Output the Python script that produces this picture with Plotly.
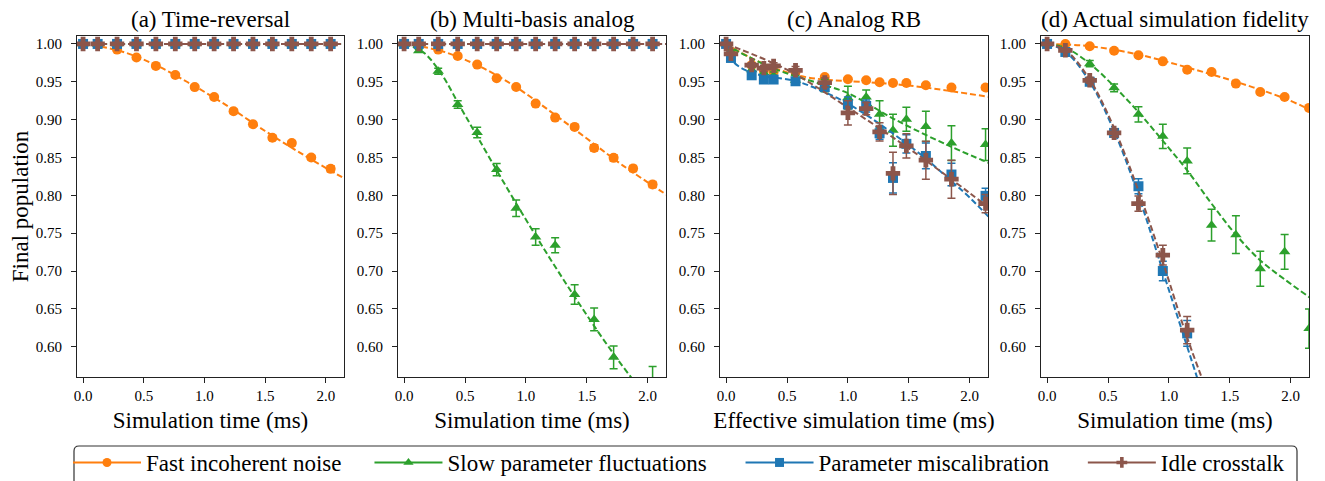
import plotly.graph_objects as go

# ---------------- data ----------------
series_names = ["Fast incoherent noise", "Slow parameter fluctuations",
                "Parameter miscalibration", "Idle crosstalk"]
panel_titles = ["(a) Time-reversal", "(b) Multi-basis analog",
                "(c) Analog RB", "(d) Actual simulation fidelity"]
x_titles = ["Simulation time (ms)", "Simulation time (ms)",
            "Effective simulation time (ms)", "Simulation time (ms)"]
y_title = "Final population"
x_ticks = [0.0, 0.5, 1.0, 1.5, 2.0]
y_ticks = [0.60, 0.65, 0.70, 0.75, 0.80, 0.85, 0.90, 0.95, 1.00]

# panel (a) time-reversal
t_ab = [0, 0.12, 0.28, 0.44, 0.60, 0.76, 0.92, 1.08, 1.24, 1.40, 1.56, 1.72, 1.88, 2.04]
a_orange = [1.0, 0.999, 0.9925, 0.982, 0.971, 0.959, 0.943, 0.930, 0.911, 0.894, 0.876, 0.869, 0.850, 0.835]
a_orange_err = [0, 0.001, 0.002, 0.002, 0.002, 0.002, 0.002, 0.002, 0.003, 0.003, 0.003, 0.003, 0.003, 0.004]
a_green = [1.0] * 14
a_blue = [1.0] * 14
a_brown = [1.0] * 14
a_zero_err = [0.0] * 14
fit_a_orange_x = [0, 0.3, 0.6, 0.9, 1.2, 1.5, 1.8, 2.2]
fit_a_orange_y = [1.0, 0.991, 0.972, 0.946, 0.917, 0.885, 0.855, 0.818]
fit_flat_x = [0, 2.2]
fit_flat_y = [1.0, 1.0]

# panel (b) multi-basis analog
b_orange = [1.0, 0.999, 0.9925, 0.984, 0.9727, 0.9547, 0.9432, 0.9212, 0.9027, 0.8904, 0.8627, 0.8495, 0.8354, 0.8143]
b_orange_err = [0, 0.001, 0.002, 0.002, 0.002, 0.002, 0.002, 0.002, 0.003, 0.003, 0.004, 0.004, 0.004, 0.004]
b_green = [1.0, 0.991, 0.964, 0.920, 0.883, 0.834, 0.783, 0.745, 0.734, 0.669, 0.636, 0.586, 0.540, 0.552]
b_green_err = [0, 0.002, 0.004, 0.005, 0.007, 0.008, 0.011, 0.011, 0.010, 0.013, 0.015, 0.015, 0.012, 0.022]
b_blue = [1.0] * 14
b_brown = [1.0] * 14
fit_b_orange_x = [0, 0.3, 0.6, 0.9, 1.2, 1.5, 1.8, 2.2]
fit_b_orange_y = [1.0, 0.991, 0.972, 0.945, 0.911, 0.875, 0.839, 0.796]
fit_b_green_x = [0, 0.15, 0.3, 0.45, 0.6, 0.8, 1.0, 1.2, 1.4, 1.6, 1.8, 2.0, 2.2]
fit_b_green_y = [1.0, 0.99, 0.962, 0.92, 0.878, 0.822, 0.768, 0.716, 0.666, 0.618, 0.573, 0.532, 0.495]

# panel (c) analog RB
t_c = [0, 0.04, 0.21, 0.31, 0.39, 0.57, 0.81, 1.0, 1.15, 1.26, 1.37, 1.48, 1.64, 1.85, 2.13]
c_orange = [1.0, 0.99, 0.972, 0.965, 0.963, 0.963, 0.9564, 0.9534, 0.952, 0.9494, 0.9485, 0.9485, 0.9454, 0.9424, 0.9424]
c_orange_err = [0, 0.001, 0.002, 0.002, 0.002, 0.002, 0.002, 0.002, 0.002, 0.002, 0.002, 0.002, 0.002, 0.002, 0.003]
c_green = [1.0, 0.99, 0.966, 0.962, 0.958, 0.952, 0.945, 0.929, 0.930, 0.907, 0.886, 0.9005, 0.891, 0.869, 0.867]
c_green_err = [0, 0.002, 0.004, 0.005, 0.005, 0.006, 0.008, 0.015, 0.009, 0.018, 0.021, 0.016, 0.020, 0.023, 0.021]
c_blue = [1.0, 0.9815, 0.9586, 0.953, 0.953, 0.9507, 0.943, 0.920, 0.918, 0.882, 0.823, 0.868, 0.852, 0.8275, 0.7993]
c_blue_err = [0, 0.002, 0.003, 0.003, 0.003, 0.004, 0.005, 0.010, 0.008, 0.008, 0.020, 0.012, 0.017, 0.015, 0.010]
c_brown = [1.0, 0.987, 0.972, 0.968, 0.971, 0.9652, 0.949, 0.909, 0.9146, 0.8838, 0.829, 0.8653, 0.8464, 0.8213, 0.789]
c_brown_err = [0, 0.002, 0.003, 0.004, 0.004, 0.005, 0.006, 0.016, 0.008, 0.012, 0.028, 0.016, 0.025, 0.025, 0.012]
fit_c_orange_x = [0, 0.2, 0.4, 0.6, 0.8, 1.0, 1.5, 2.2]
fit_c_orange_y = [1.0, 0.982, 0.968, 0.958, 0.953, 0.951, 0.945, 0.929]
fit_c_green_x = [0, 0.1, 0.4, 0.6, 0.8, 1.0, 1.4, 1.85, 2.2]
fit_c_green_y = [1.0, 0.99, 0.967, 0.956, 0.946, 0.935, 0.899, 0.864, 0.840]
fit_c_blue_x = [0, 0.05, 0.15, 0.3, 0.57, 0.8, 1.0, 1.2, 1.46, 1.65, 1.84, 2.0, 2.2]
fit_c_blue_y = [0.996, 0.978, 0.966, 0.958, 0.951, 0.937, 0.921, 0.901, 0.871, 0.847, 0.820, 0.797, 0.764]
fit_c_brown_x = [0, 0.5, 1.0, 1.5, 2.0, 2.2]
fit_c_brown_y = [1.0, 0.966, 0.916, 0.862, 0.803, 0.778]

# panel (d) actual simulation fidelity
t_d = [0, 0.15, 0.35, 0.55, 0.75, 0.95, 1.15, 1.35, 1.55, 1.75, 1.95, 2.15]
d_orange = [1.0, 1.0, 0.997, 0.991, 0.985, 0.977, 0.966, 0.963, 0.9476, 0.9366, 0.930, 0.9155]
d_orange_err = [0, 0.001, 0.001, 0.002, 0.002, 0.002, 0.002, 0.002, 0.002, 0.002, 0.002, 0.002]
d_green = [1.0, 0.993, 0.974, 0.942, 0.907, 0.878, 0.8455, 0.7606, 0.748, 0.703, 0.7254, 0.624]
d_green_err = [0, 0.002, 0.004, 0.005, 0.010, 0.016, 0.017, 0.021, 0.025, 0.023, 0.023, 0.026]
t_d_short = [0, 0.15, 0.35, 0.55, 0.75, 0.95, 1.15]
d_blue = [1.0, 0.9894, 0.950, 0.8825, 0.812, 0.700, 0.6176]
d_blue_err = [0, 0.002, 0.004, 0.005, 0.010, 0.013, 0.017]
d_brown = [1.0, 0.9916, 0.952, 0.8825, 0.789, 0.721, 0.622]
d_brown_err = [0, 0.002, 0.004, 0.005, 0.010, 0.013, 0.018]
fit_d_orange_x = [0, 0.35, 0.75, 1.15, 1.55, 1.95, 2.2]
fit_d_orange_y = [1.0, 0.997, 0.986, 0.969, 0.950, 0.928, 0.910]
fit_d_green_x = [0, 0.15, 0.35, 0.55, 0.75, 0.95, 1.15, 1.35, 1.55, 1.75, 1.95, 2.2]
fit_d_green_y = [1.0, 0.995, 0.974, 0.944, 0.910, 0.872, 0.833, 0.789, 0.748, 0.714, 0.689, 0.660]
fit_d_blue_x = [0, 0.15, 0.35, 0.55, 0.75, 0.95, 1.15, 1.3]
fit_d_blue_y = [1.0, 0.99, 0.95, 0.885, 0.80, 0.70, 0.60, 0.525]
fit_d_brown_x = [0, 0.15, 0.35, 0.55, 0.75, 0.95, 1.15, 1.35]
fit_d_brown_y = [1.0, 0.992, 0.953, 0.889, 0.806, 0.712, 0.612, 0.525]

# ---------------- styling ----------------
colors = ["#ff7f0e", "#2ca02c", "#1f77b4", "#8c564b"]
symbols = ["circle", "triangle-up", "square", "cross"]
msizes = [10, 10, 10, 12]
FONT = "Liberation Serif, Times New Roman, serif"
BIG = 23
OFF = 8                      # default page body margin in the browser
W, H = 1325 - OFF, 481 - OFF

panels = [
    [(t_ab, a_orange, a_orange_err), (t_ab, a_green, a_zero_err),
     (t_ab, a_blue, a_zero_err), (t_ab, a_brown, a_zero_err)],
    [(t_ab, b_orange, b_orange_err), (t_ab, b_green, b_green_err),
     (t_ab, b_blue, a_zero_err), (t_ab, b_brown, a_zero_err)],
    [(t_c, c_orange, c_orange_err), (t_c, c_green, c_green_err),
     (t_c, c_blue, c_blue_err), (t_c, c_brown, c_brown_err)],
    [(t_d, d_orange, d_orange_err), (t_d, d_green, d_green_err),
     (t_d_short, d_blue, d_blue_err), (t_d_short, d_brown, d_brown_err)],
]
fits = [
    [(fit_a_orange_x, fit_a_orange_y), (fit_flat_x, fit_flat_y),
     (fit_flat_x, fit_flat_y), (fit_flat_x, fit_flat_y)],
    [(fit_b_orange_x, fit_b_orange_y), (fit_b_green_x, fit_b_green_y),
     (fit_flat_x, fit_flat_y), (fit_flat_x, fit_flat_y)],
    [(fit_c_orange_x, fit_c_orange_y), (fit_c_green_x, fit_c_green_y),
     (fit_c_blue_x, fit_c_blue_y), (fit_c_brown_x, fit_c_brown_y)],
    [(fit_d_orange_x, fit_d_orange_y), (fit_d_green_x, fit_d_green_y),
     (fit_d_blue_x, fit_d_blue_y), (fit_d_brown_x, fit_d_brown_y)],
]


def px_x(v):
    return (v - OFF) / W


def px_y(v):
    return 1 - (v - OFF) / H


# panel page-pixel extents
px_left = [77, 398, 720, 1041]
px_right = [344, 666, 988, 1309]
px_top, px_bottom = 36, 377

fig = go.Figure()

# legend-only entries (non-breaking spaces pad the gap between entries)
pads = [4, 5, 5, 0]
for k in range(4):
    fig.add_trace(go.Scatter(
        x=[None], y=[None], mode="lines+markers",
        name=series_names[k] + "\u00a0" * pads[k],
        line=dict(color=colors[k], width=2),
        marker=dict(color=colors[k], symbol=symbols[k], size=9),
        xaxis="x", yaxis="y", showlegend=True))

for p in range(4):
    xa = "x" if p == 0 else f"x{p+1}"
    ya = "y" if p == 0 else f"y{p+1}"
    for k in range(4):
        xs, ys, es = panels[p][k]
        fig.add_trace(go.Scatter(
            x=xs, y=ys, mode="markers", showlegend=False,
            marker=dict(color=colors[k], symbol=symbols[k], size=msizes[k],
                        line=dict(width=0)),
            error_y=dict(type="data", array=es, visible=True, color=colors[k],
                         thickness=1.5, width=4),
            xaxis=xa, yaxis=ya, cliponaxis=True))
        fx, fy = fits[p][k]
        fig.add_trace(go.Scatter(
            x=fx, y=fy, mode="lines", showlegend=False,
            line=dict(color=colors[k], width=2, dash="6px,3px", shape="spline"),
            xaxis=xa, yaxis=ya, hoverinfo="skip"))

axis_common = dict(showline=True, mirror=True, linecolor="#222", linewidth=1.2,
                   ticks="outside", ticklen=5, tickwidth=1, tickcolor="#222",
                   showgrid=False, zeroline=False,
                   tickfont=dict(family=FONT, size=15, color="black"))

layout = dict(width=W, height=H, autosize=False,
              margin=dict(l=0, r=0, t=0, b=0, pad=0, autoexpand=False),
              paper_bgcolor="white", plot_bgcolor="white",
              font=dict(family=FONT, color="black"))

annotations = []
for p in range(4):
    xkey = "xaxis" if p == 0 else f"xaxis{p+1}"
    ykey = "yaxis" if p == 0 else f"yaxis{p+1}"
    xa = "x" if p == 0 else f"x{p+1}"
    ya = "y" if p == 0 else f"y{p+1}"
    layout[xkey] = dict(axis_common,
                        domain=[px_x(px_left[p]), px_x(px_right[p])],
                        range=[-0.05, 2.15], tickvals=x_ticks,
                        tickformat=".1f", anchor=ya, ticklabelstandoff=0,
                        title=dict(text=x_titles[p],
                                   font=dict(family=FONT, size=BIG, color="black"),
                                   standoff=8))
    ydict = dict(axis_common,
                 domain=[px_y(px_bottom), px_y(px_top)],
                 range=[0.56, 1.0105], tickvals=y_ticks,
                 tickformat=".2f", anchor=xa, ticklabelstandoff=6)
    if p == 0:
        ydict["title"] = dict(text=y_title,
                              font=dict(family=FONT, size=BIG, color="black"),
                              standoff=6)
    layout[ykey] = ydict
    annotations.append(dict(
        text=panel_titles[p], xref="paper", yref="paper",
        x=px_x((px_left[p] + px_right[p]) / 2), y=px_y(px_top),
        xanchor="center", yanchor="bottom", yshift=2, showarrow=False,
        font=dict(family=FONT, size=BIG, color="black")))

layout["annotations"] = annotations
layout["legend"] = dict(orientation="h", x=px_x(68), y=px_y(441),
                        xanchor="left", yanchor="top",
                        font=dict(family=FONT, size=BIG, color="black"),
                        bgcolor="rgba(0,0,0,0)", borderwidth=0,
                        itemwidth=68, tracegroupgap=0)

# rounded legend frame (bottom runs past the page edge, as in the reference)
x0, x1 = px_x(74), px_x(1297)
y0, y1 = px_y(446), px_y(500)
rx, ry = 5 / W, 5 / H
frame_path = (f"M {x0+rx},{y0} L {x1-rx},{y0} Q {x1},{y0} {x1},{y0-ry} "
              f"L {x1},{y1} L {x0},{y1} L {x0},{y0-ry} Q {x0},{y0} {x0+rx},{y0} Z")
layout["shapes"] = [dict(type="path", xref="paper", yref="paper",
                         path=frame_path, line=dict(color="#333", width=1.2),
                         fillcolor="rgba(0,0,0,0)", layer="below")]

fig.update_layout(**layout)
fig.write_html("out.html")
